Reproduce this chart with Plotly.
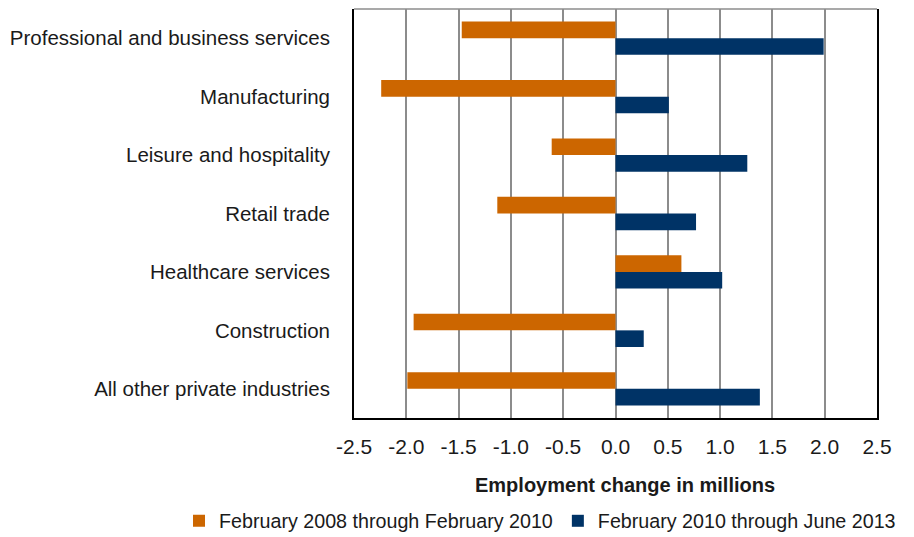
import plotly.graph_objects as go

# Private-sector employment change by industry, in millions of jobs
industries = [
    "Professional and business services",
    "Manufacturing",
    "Leisure and hospitality",
    "Retail trade",
    "Healthcare services",
    "Construction",
    "All other private industries",
]
recession_change = [-1.47, -2.24, -0.61, -1.13, 0.63, -1.93, -1.99]
recovery_change = [1.99, 0.51, 1.26, 0.77, 1.02, 0.27, 1.38]

series_names = [
    "February 2008 through February 2010",
    "February 2010 through June 2013",
]
x_ticks = [-2.5, -2.0, -1.5, -1.0, -0.5, 0.0, 0.5, 1.0, 1.5, 2.0, 2.5]
x_title = "Employment change in millions"

ORANGE = "#CC6600"
NAVY = "#003366"
GRID = "#8C8C8C"
FONT = "Liberation Sans Narrow, Arial Narrow, Liberation Sans, Arial, sans-serif"

n = len(industries)
# category boundaries for the small tick marks along the zero axis
boundaries = [i - 0.5 for i in range(n + 1)]

fig = go.Figure()
fig.add_trace(go.Bar(
    y=industries, x=recession_change, orientation="h",
    name=series_names[0], marker=dict(color=ORANGE, line=dict(width=0)),
))
fig.add_trace(go.Bar(
    y=industries, x=recovery_change, orientation="h",
    name=series_names[1], marker=dict(color=NAVY, line=dict(width=0)),
))

fig.update_layout(
    width=914, height=537,
    margin=dict(l=354, r=37, t=9, b=119, autoexpand=False),
    paper_bgcolor="white", plot_bgcolor="white",
    barmode="group", bargap=0.43, bargroupgap=0,
    font=dict(family=FONT, size=20.5, color="#1a1a1a"),
    showlegend=True,
    legend=dict(
        orientation="h", x=-0.3346, y=-0.2518,
        xanchor="left", yanchor="middle",
        font=dict(size=19.7), traceorder="normal",
    ),
    xaxis=dict(
        range=[-2.5, 2.5], tickvals=x_ticks,
        ticktext=[f"{v:.1f}" for v in x_ticks],
        showgrid=True, gridcolor=GRID, gridwidth=2,
        zeroline=True, zerolinecolor=GRID, zerolinewidth=2,
        showline=True, linecolor="black", linewidth=1.8,
        ticks="", ticklabelstandoff=9, tickfont=dict(size=21),
    ),
    yaxis=dict(
        autorange="reversed",
        showline=True, linecolor="black", linewidth=1.8, mirror=True,
        showgrid=False, ticks="", ticklabelstandoff=18,
    ),
    yaxis2=dict(
        type="linear", range=[n - 0.5, -0.5], tickvals=boundaries,
        overlaying="y", anchor="free", position=0.5, side="right",
        showticklabels=False, showgrid=False, zeroline=False,
        showline=False, ticks="outside", ticklen=5, tickwidth=1.5,
        tickcolor=GRID,
    ),
    annotations=[dict(
        text=f"<b>{x_title}</b>", xref="paper", yref="paper",
        x=0.519, y=-0.1638, xanchor="center", yanchor="middle",
        showarrow=False, font=dict(size=20),
    )],
    shapes=[dict(type="line", xref="paper", yref="paper",
                 x0=0, x1=1, y0=1, y1=1,
                 line=dict(color=GRID, width=1.5))],
)

fig.write_html("out.html")
